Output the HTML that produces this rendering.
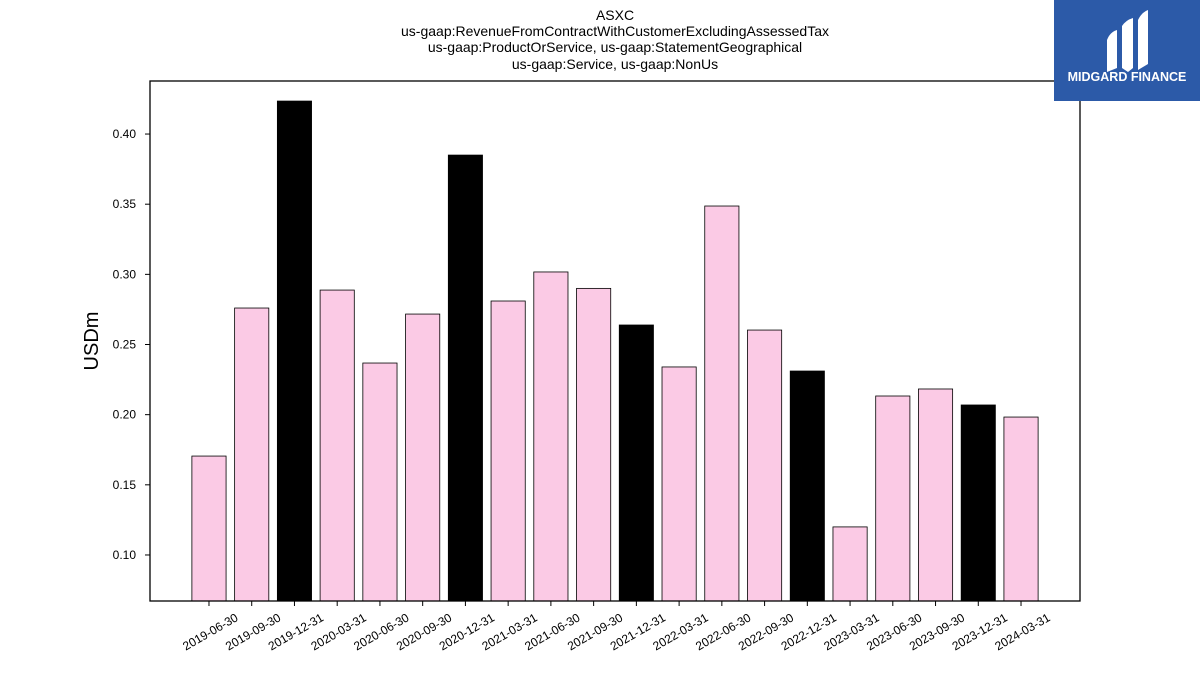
<!DOCTYPE html>
<html><head><meta charset="utf-8"><style>
body{margin:0;background:#fff;width:1200px;height:675px;overflow:hidden;font-family:"Liberation Sans","DejaVu Sans",sans-serif}
</style></head><body>
<svg id="chart" width="1200" height="675" xmlns="http://www.w3.org/2000/svg">
<g font-size="14" text-anchor="middle" fill="#000">
<text x="615" y="20">ASXC</text>
<text x="615" y="36">us-gaap:RevenueFromContractWithCustomerExcludingAssessedTax</text>
<text x="615" y="52">us-gaap:ProductOrService, us-gaap:StatementGeographical</text>
<text x="615" y="69">us-gaap:Service, us-gaap:NonUs</text>
</g>
<g id="bars"></g>
<g id="yaxis"></g>
<g id="xaxis"></g>
<rect x="150" y="81" width="930" height="520" fill="none" stroke="#000" stroke-width="1.3"/>
<text x="98" y="341" font-size="20" text-anchor="middle" transform="rotate(-90 98 341)">USDm</text>
<g>
<rect x="1054" y="0" width="146" height="101" fill="#2c5aa8"/>
<path d="M1107 40 Q1110 32 1117 30 L1117 68 L1107 72 Z" fill="#fff"/>
<path d="M1122 26 Q1126 20 1133 18 L1133 68 L1128 72 L1122 68 Z" fill="#fff"/>
<path d="M1138 20 Q1142 12 1148 10 L1148 64 L1138 70 Z" fill="#fff"/>
<text x="1127" y="81" font-size="12.5" font-weight="bold" fill="#fff" text-anchor="middle">MIDGARD FINANCE</text>
</g>
</svg>
<script>
const categories=["2019-06-30","2019-09-30","2019-12-31","2020-03-31","2020-06-30","2020-09-30","2020-12-31","2021-03-31","2021-06-30","2021-09-30","2021-12-31","2022-03-31","2022-06-30","2022-09-30","2022-12-31","2023-03-31","2023-06-30","2023-09-30","2023-12-31","2024-03-31"];
const values=[0.1705,0.276,0.4235,0.2888,0.2368,0.2717,0.385,0.281,0.3017,0.290,0.2639,0.234,0.3487,0.2603,0.2311,0.120,0.2133,0.2183,0.2069,0.1983];
const yTicks=[0.10,0.15,0.20,0.25,0.30,0.35,0.40];
const ns="http://www.w3.org/2000/svg";
const X0=150,X1=1080,Y0=601,Y1=81;
const yMin=0.0672,yMax=0.4378;
const xMin=-1.38,xMax=categories.length-1+1.38;
function y(v){return Y0-(v-yMin)/(yMax-yMin)*(Y0-Y1);}
function x(i){return X0+(i-xMin)/(xMax-xMin)*(X1-X0);}
const bw=0.8*(x(1)-x(0));
const bars=document.getElementById('bars'),ya=document.getElementById('yaxis'),xa=document.getElementById('xaxis');
function mk(t,a,p){const e=document.createElementNS(ns,t);for(const k in a)e.setAttribute(k,a[k]);p.appendChild(e);return e;}
values.forEach((v,i)=>{
 const r=mk('rect',{x:x(i)-bw/2,y:y(v),width:bw,height:Y0-y(v),fill:categories[i].endsWith('12-31')?'#000':'#fbcae5',stroke:'#000','stroke-width':0.8},bars);
 
 
});
yTicks.forEach(t=>{
 const l=mk('line',{x1:X0-5,x2:X0,y1:y(t),y2:y(t),stroke:'#000'},ya);
 
 
 const tx=mk('text',{x:X0-14,y:y(t)+4,'font-size':12,'text-anchor':'end'},ya);
 tx.textContent=t.toFixed(2);
 
 
});
categories.forEach((c,i)=>{
 const l=mk('line',{x1:x(i),x2:x(i),y1:Y0,y2:Y0+5,stroke:'#000'},xa);
 
 
 const tx=mk('text',{x:x(i)+30,y:Y0+19,'font-size':12,'text-anchor':'end',transform:`rotate(-30 ${x(i)+30} ${Y0+19})`},xa);
 tx.textContent=c;
 
 
});
</script>
</body></html>
